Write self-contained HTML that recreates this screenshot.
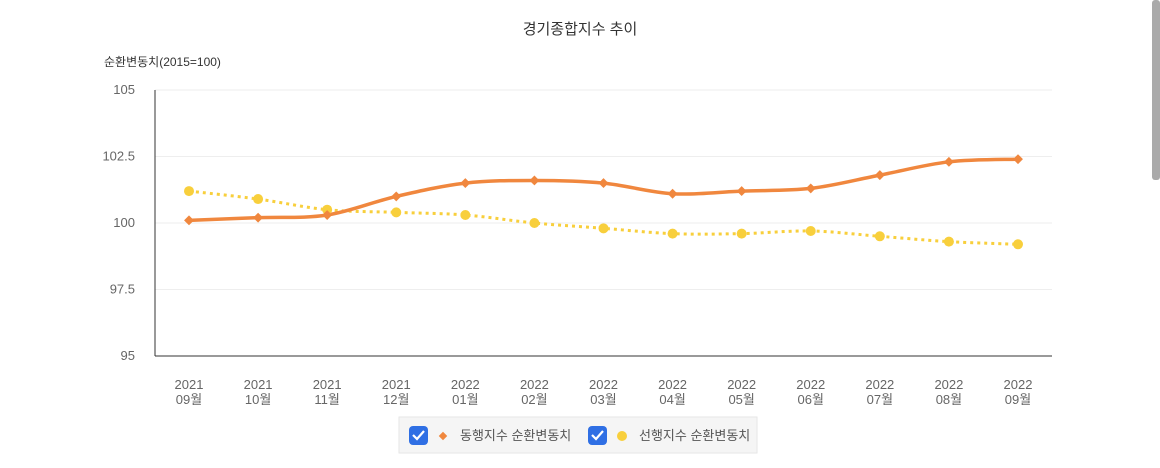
<!DOCTYPE html>
<html><head><meta charset="utf-8"><style>
body{margin:0;width:1160px;height:468px;background:#fff;overflow:hidden;position:relative;font-family:"Liberation Sans","Noto Sans CJK KR",sans-serif}
</style></head><body>
<svg width="1160" height="468" style="position:absolute;left:0;top:0">
<text x="580" y="34" text-anchor="middle" font-size="15" fill="#333">경기종합지수 추이</text>
<text x="104" y="66" font-size="12" fill="#333">순환변동치(2015=100)</text>
<g id="grid"></g><g id="xl"></g><g id="lines"></g>
<rect x="1152" y="0" width="8" height="180" rx="3" fill="#aaa"/>
<g>
<rect x="399" y="417" width="358" height="36" fill="#f5f5f5" stroke="#e6e6e6"/>
<g>
<rect x="409" y="426" width="19" height="19" rx="4" fill="#2f6fe4"/>
<path d="M413 435 l4 4 l7 -8" stroke="#fff" stroke-width="2.2" fill="none"/>
<rect x="440" y="433" width="6" height="6" fill="#f0873e" transform="rotate(45 443 436)"/>
<text x="460" y="440" font-size="13" fill="#555">동행지수 순환변동치</text></g>
<g>
<rect x="588" y="426" width="19" height="19" rx="4" fill="#2f6fe4"/>
<path d="M592 435 l4 4 l7 -8" stroke="#fff" stroke-width="2.2" fill="none"/>
<circle cx="622" cy="436" r="5" fill="#f8cf3c"/>
<text x="639" y="440" font-size="13" fill="#555">선행지수 순환변동치</text></g>
</g>
</svg>
<script>
const years=["2021","2021","2021","2021","2022","2022","2022","2022","2022","2022","2022","2022","2022"];
const months=["09월","10월","11월","12월","01월","02월","03월","04월","05월","06월","07월","08월","09월"];
const coincident=[100.1,100.2,100.3,101.0,101.5,101.6,101.5,101.1,101.2,101.3,101.8,102.3,102.4];
const leading=[101.2,100.9,100.5,100.4,100.3,100.0,99.8,99.6,99.6,99.7,99.5,99.3,99.2];
const yTicks=[95,97.5,100,102.5,105];
const NS="http://www.w3.org/2000/svg";
const L=155,R=1052,T=90,B=356,yMin=95,yMax=105;
const x=i=>189+i*(1018-189)/(months.length-1);
const y=v=>B-(v-yMin)/(yMax-yMin)*(B-T);
function mk(t,a,p){const e=document.createElementNS(NS,t);for(const k in a)e.setAttribute(k,a[k]);p.appendChild(e);return e;}
const g=document.getElementById('grid');
yTicks.forEach(v=>{
 const ln=mk('line',{x1:L,x2:R,y1:y(v),y2:y(v),stroke:v===yMin?'#333':'#eee'},g);
 
 
 const t=mk('text',{x:135,y:y(v)+4,'text-anchor':'end','font-size':13,fill:'#666'},g);t.textContent=v;
 
 
});
const ax=mk('line',{x1:L,x2:L,y1:T,y2:B,stroke:'#333'},g);


const xl=document.getElementById('xl');
months.forEach((m,i)=>{
 const t=mk('text',{x:x(i),y:389,'text-anchor':'middle','font-size':13,fill:'#666'},xl);
 
 
 mk('tspan',{x:x(i),dy:0},t).textContent=years[i];
 mk('tspan',{x:x(i),dy:15},t).textContent=m;
});
const lg=document.getElementById('lines');
function sm(vals){let d='';const p=vals.map((v,i)=>[x(i),y(v)]);
 p.forEach((pt,i)=>{if(!i){d='M'+pt;return;}const p0=p[i-2]||p[i-1],p1=p[i-1],p3=p[i+1]||pt;
 const c1=[p1[0]+(pt[0]-p0[0])/6,p1[1]+(pt[1]-p0[1])/6],c2=[pt[0]-(p3[0]-p1[0])/6,pt[1]-(p3[1]-p1[1])/6];
 d+=' C'+c1+' '+c2+' '+pt;});return d;}
const l2=mk('path',{d:sm(leading),fill:'none',stroke:'#f8cf3c','stroke-width':3,'stroke-dasharray':'3 4'},lg);


const l1=mk('path',{d:sm(coincident),fill:'none',stroke:'#f0873e','stroke-width':3.5},lg);


leading.forEach((v,i)=>{const c=mk('circle',{cx:x(i),cy:y(v),r:5,fill:'#f8cf3c'},lg);
 
 });
coincident.forEach((v,i)=>{const r=mk('rect',{x:x(i)-3.5,y:y(v)-3.5,width:7,height:7,fill:'#f0873e',transform:`rotate(45 ${x(i)} ${y(v)})`},lg);
 
 });
</script>
</body></html>
